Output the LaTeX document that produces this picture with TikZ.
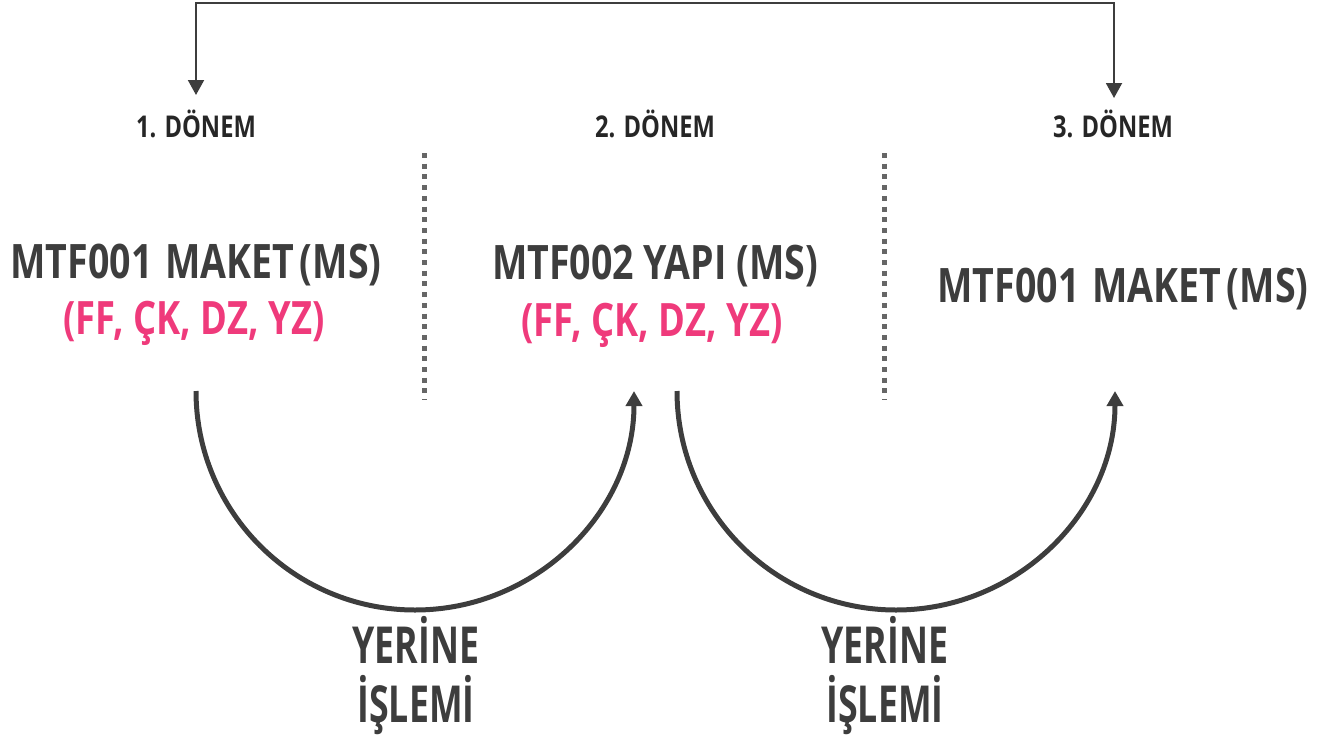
\documentclass[tikz,border=0pt]{standalone}
\usepackage{fontspec}
\setmainfont{Open Sans}[FakeStretch=0.79]
\newfontfamily\narrowfont{Open Sans}[FakeStretch=0.7]
\usetikzlibrary{arrows.meta}
\definecolor{dk}{HTML}{3D3D3D}
\definecolor{lbl}{HTML}{262626}
\definecolor{pk}{HTML}{EF3A7B}
\definecolor{dotc}{HTML}{666666}
\begin{document}
\begin{tikzpicture}[x=1pt,y=1pt,
  lab/.style={anchor=base,inner sep=0pt,text=lbl,font=\bfseries\fontsize{30}{30}\selectfont},
  main/.style={anchor=base,inner sep=0pt,text=dk,font=\bfseries\fontsize{47.5}{47.5}\selectfont},
  sub/.style={main,text=pk,font=\bfseries\fontsize{46}{46}\selectfont},
  yer/.style={anchor=base,inner sep=0pt,text=dk,font=\narrowfont\bfseries\fontsize{51}{51}\selectfont},
  topline/.style={draw=dk,line width=2pt},
  arcline/.style={draw=dk,line width=5pt,-{Triangle[width=16pt,length=15pt]}},
  sep/.style={draw=dotc,line width=5pt,dash pattern=on 5pt off 5.7pt}]
\useasboundingbox (0,0) rectangle (1329,-734);
% period labels
\node[lab] (d1) at (196,-137) {1. DÖNEM};
\node[lab] (d2) at (655,-137) {2. DÖNEM};
\node[lab] (d3) at (1113,-137) {3. DÖNEM};
% course texts
\node[main] (c1) at (196,-278) {MTF001\hspace{3pt} MAKET\hspace{-4pt} (MS)};
\node[sub] (p1) at (194,-334) {(FF, ÇK, DZ, YZ)};
\node[main] (c2) at (655,-279) {MTF002 YAPI (MS)};
\node[sub] (p2) at (652,-336) {(FF, ÇK, DZ, YZ)};
\node[main] (c3) at (1123,-302) {MTF001\hspace{3pt} MAKET\hspace{-4pt} (MS)};
% substitution labels
\node[yer] (y1) at (416,-663) {YERİNE};
\node[yer] (i1) at (416,-722) {İŞLEMİ};
\node[yer] (y2) at (885,-663) {YERİNE};
\node[yer] (i2) at (885,-722) {İŞLEMİ};
% top connector
\coordinate (t1) at (196,-95);
\coordinate (t3) at (1114,-98);
\coordinate (tc) at (655,-3);
\draw[topline,{Triangle[width=16pt,length=15pt]}-{Triangle[width=16pt,length=15pt]}] (t1) |- (tc) -| (t3);
% dotted separators
\coordinate (s1a) at (424,-153); \coordinate (s1b) at (424,-400);
\coordinate (s2a) at (884,-153); \coordinate (s2b) at (884,-400);
\draw[sep] (s1a) -- (s1b);
\draw[sep] (s2a) -- (s2b);
% arcs
\coordinate (a1) at (196,-391);
\coordinate (a2) at (677,-391);
\draw[arcline] (a1) arc[start angle=180,end angle=360,radius=219];
\draw[arcline] (a2) arc[start angle=180,end angle=360,radius=219];
\end{tikzpicture}
\end{document}
